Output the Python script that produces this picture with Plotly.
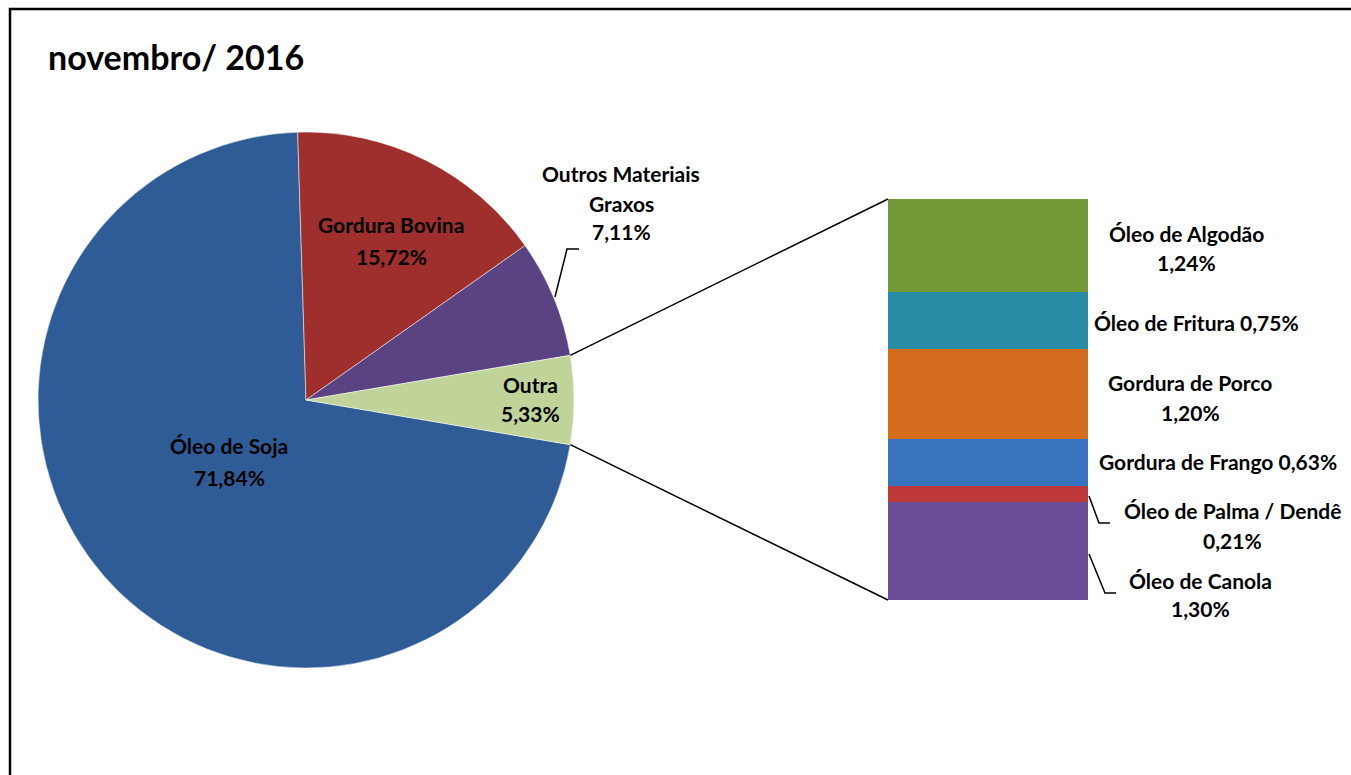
import math
import plotly.graph_objects as go

W, H = 1351, 775

# ---- data ----
pie_labels = ["Óleo de Soja", "Gordura Bovina", "Outros Materiais Graxos", "Outra"]
pie_values = [71.84, 15.72, 7.11, 5.33]
pie_colors = ["#2F5C96", "#9E2F2C", "#5A4283", "#C0D49A"]

bar_labels = ["Óleo de Canola", "Óleo de Palma / Dendê", "Gordura de Frango",
              "Gordura de Porco", "Óleo de Fritura", "Óleo de Algodão"]
bar_values = [1.30, 0.21, 0.63, 1.20, 0.75, 1.24]
bar_colors = ["#6A4E95", "#C0393A", "#3873BE", "#D56D1F", "#2A8CA6", "#739A38"]

title_text = "novembro/ 2016"

FONT = "Lato"
FS = 21

def px(x):
    return x / W

def py(y):
    return 1 - y / H

def fmt(v):
    return f"{v:.2f}".replace(".", ",") + "%"

# pie geometry (pixels)
cx, cy, R = 306, 400, 268
half = pie_values[3] * 3.6 / 2  # half angle of "Outra" slice (deg)
rotation = 90 + half

# bar geometry (pixels)
bx0, bx1, by0, by1 = 888, 1088, 199, 600
total_bar = sum(bar_values)

fig = go.Figure()

fig.add_trace(go.Pie(
    labels=pie_labels, values=pie_values, sort=False, direction="clockwise",
    rotation=rotation, textinfo="none", hoverinfo="label+percent",
    marker=dict(colors=pie_colors, line=dict(color="white", width=0.5)),
    domain=dict(x=[px(cx - R), px(cx + R)], y=[py(cy + R), py(cy - R)]),
    showlegend=False,
))

for lab, val, col in zip(bar_labels, bar_values, bar_colors):
    fig.add_trace(go.Bar(
        x=[0], y=[val], name=lab, marker=dict(color=col, line=dict(width=0)),
        width=1, xaxis="x", yaxis="y", showlegend=False, hoverinfo="name+y",
    ))

fig.update_layout(
    width=W, height=H, margin=dict(l=0, r=0, t=0, b=0),
    paper_bgcolor="white", plot_bgcolor="rgba(0,0,0,0)",
    barmode="stack",
    xaxis=dict(domain=[px(bx0), px(bx1)], range=[-0.5, 0.5], visible=False, fixedrange=True),
    yaxis=dict(domain=[py(by1), py(by0)], range=[0, total_bar], visible=False, fixedrange=True),
    font=dict(family=FONT, color="black"),
)

shapes = []
# outer frame (extends beyond right/bottom edges)
shapes.append(dict(type="rect", xref="paper", yref="paper",
                   x0=px(10), x1=px(W + 20), y0=py(H + 20), y1=py(9),
                   line=dict(color="black", width=2.5)))

# connector lines from pie "Outra" slice edges to bar corners
a_top = math.radians(-half)
a_bot = math.radians(half)
p_top = (cx + R * math.cos(a_top), cy + R * math.sin(a_top))
p_bot = (cx + R * math.cos(a_bot), cy + R * math.sin(a_bot))
shapes.append(dict(type="line", xref="paper", yref="paper",
                   x0=px(p_top[0]), y0=py(p_top[1]), x1=px(bx0), y1=py(by0),
                   line=dict(color="black", width=1.5)))
shapes.append(dict(type="line", xref="paper", yref="paper",
                   x0=px(p_bot[0]), y0=py(p_bot[1]), x1=px(bx0), y1=py(by1),
                   line=dict(color="black", width=1.5)))

# leader lines
def leader(points):
    path = "M " + " L ".join(f"{px(x)},{py(y)}" for x, y in points)
    shapes.append(dict(type="path", xref="paper", yref="paper", path=path,
                       line=dict(color="black", width=1.5)))

leader([(555, 297), (567, 249), (579, 249)])
leader([(1089, 496), (1099, 523), (1110, 523)])
leader([(1089, 554), (1105, 593), (1116, 593)])

fig.update_layout(shapes=shapes)

ann = []
def label(x, y_first, lines, gap=29.5, size=FS):
    for i, t in enumerate(lines):
        ann.append(dict(xref="paper", yref="paper", x=px(x), y=py(y_first + i * gap),
                        text=f"<b>{t}</b>", showarrow=False,
                        xanchor="center", yanchor="middle",
                        font=dict(family=FONT, size=size, color="black")))

ann.append(dict(xref="paper", yref="paper", x=px(46), y=py(57), text=f"<b>{title_text}</b>",
                showarrow=False, xanchor="left", yanchor="middle",
                font=dict(family=FONT, size=34, color="black")))

# pie labels
label(229, 446, [pie_labels[0], fmt(pie_values[0])], gap=31)
label(391, 225, [pie_labels[1], fmt(pie_values[1])], gap=31)
label(621, 174, ["Outros Materiais", "Graxos", fmt(pie_values[2])], gap=29)
label(530, 384, [pie_labels[3], fmt(pie_values[3])], gap=29)

# bar labels
label(1186, 233, [bar_labels[5], fmt(bar_values[5])], gap=29)
label(1196, 322, [f"{bar_labels[4]} {fmt(bar_values[4])}"])
label(1190, 383, [bar_labels[3], fmt(bar_values[3])], gap=29)
label(1218, 461, [f"{bar_labels[2]} {fmt(bar_values[2])}"])
label(1232, 510, [bar_labels[1], fmt(bar_values[1])], gap=30)
label(1200, 580, [bar_labels[0], fmt(bar_values[0])], gap=28)

fig.update_layout(annotations=ann)

fig.write_html("out.html", config={"displayModeBar": False},
               post_script="document.body.style.margin='0';document.body.style.overflow='hidden';")
